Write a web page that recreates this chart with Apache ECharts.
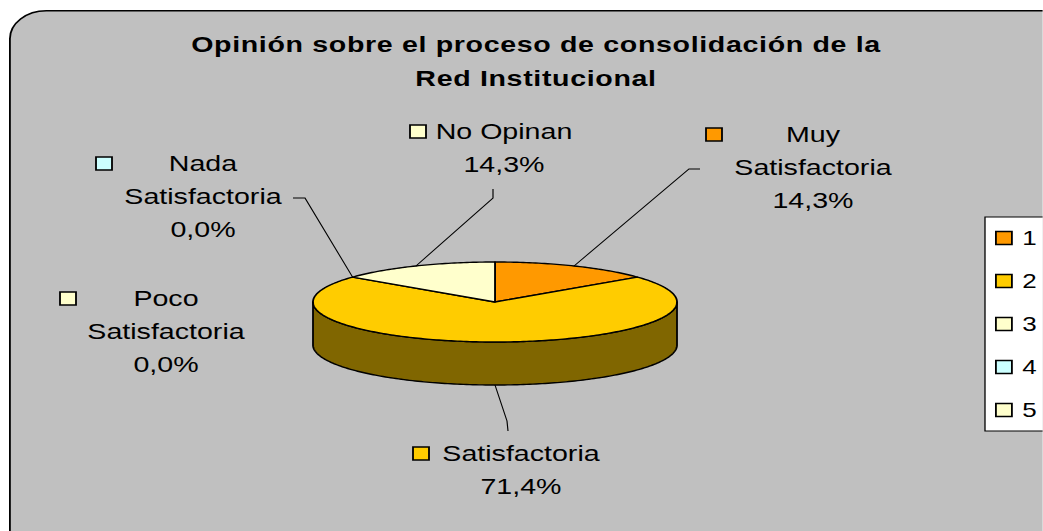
<!DOCTYPE html>
<html><head><meta charset="utf-8">
<script src="https://cdn.jsdelivr.net/npm/echarts@6/dist/echarts.min.js"></script>
<style>
html,body{margin:0;padding:0;background:#fff;overflow:hidden;width:1043px;height:531px;}
#main{width:802.3px;height:531px;transform:scaleX(1.3);transform-origin:0 0;}
#main text[style*="bold"]{letter-spacing:0.5px;}
</style></head><body><div id="main"></div>
<script>
// ---- data ----
const categories = ['Muy Satisfactoria', 'Satisfactoria', 'Poco Satisfactoria', 'Nada Satisfactoria', 'No Opinan'];
const percents = [14.3, 71.4, 0.0, 0.0, 14.3];
const legendNames = ['1', '2', '3', '4', '5'];
const titleLines = ['Opinión sobre el proceso de consolidación de la', 'Red Institucional'];

// ---- styles / layout (page pixels; the chart is drawn horizontally stretched by S) ----
const S = 1.3;
const sx = x => x / S;
const sliceColors = ['#FF9900', '#FFCC00', '#FFFFCC', '#CCFFFF', '#FFFFCC'];
const sideColors = ['#804C00', '#806600', '#808066', '#668080', '#808066'];
const PIE = {cx: 495, cy: 302, rx: 182, ry: 40, depth: 43};
const FONT = '"Liberation Sans", Arial, sans-serif';
const labelLayout = [
  {cx: 813, cy: 134, keyX: 706, wrap: true,  leader: [[689, 169], [700, 169]]},
  {cx: 521, cy: 453, keyX: 413, wrap: false, leader: [[507, 421], [508, 431]]},
  {cx: 166, cy: 298, keyX: 60,  wrap: true,  leader: null},
  {cx: 203, cy: 163, keyX: 96,  wrap: true,  leader: [[305, 198], [293, 198]]},
  {cx: 504, cy: 131, keyX: 410, wrap: false, leader: [[493, 198], [493, 189]]}
];

function fmtPct(v) { return v.toFixed(1).replace('.', ',') + '%'; }

function renderItem(params, api) {
  const i = params.dataIndex;
  const v = api.value(0);
  const total = percents.reduce((a, b) => a + b, 0);
  let before = 0;
  for (let k = 0; k < i; k++) before += percents[k];
  const a0 = before / total * 2 * Math.PI;
  const a1 = (before + v) / total * 2 * Math.PI;
  const pt = (t, dy) => [sx(PIE.cx + PIE.rx * Math.sin(t)), PIE.cy - PIE.ry * Math.cos(t) + (dy || 0)];
  const arc = (s, e, dy) => {
    const n = Math.max(2, Math.ceil((e - s) / (Math.PI / 180)));
    const out = [];
    for (let j = 0; j <= n; j++) out.push(pt(s + (e - s) * j / n, dy));
    return out;
  };
  const children = [];
  if (v > 0) {
    const s = Math.max(a0, Math.PI / 2), e = Math.min(a1, 3 * Math.PI / 2);
    if (e > s) {
      const top = arc(s, e, 0), bot = arc(s, e, PIE.depth).reverse();
      children.push({type: 'polygon', z2: 1, shape: {points: top.concat(bot)},
        style: {fill: sideColors[i], stroke: '#000', lineWidth: 1.4, lineJoin: 'round'}});
    }
    children.push({type: 'polygon', z2: 5, shape: {points: [[sx(PIE.cx), PIE.cy]].concat(arc(a0, a1, 0))},
      style: {fill: sliceColors[i], stroke: '#000', lineWidth: 1.4, lineJoin: 'round'}});
  }
  const L = labelLayout[i];
  if (L.leader) {
    const mid = (a0 + a1) / 2;
    const front = Math.cos(mid) < 0;
    const p0 = pt(mid, front ? PIE.depth : 0);
    const pts = [p0].concat(L.leader.map(p => [sx(p[0]), p[1]]));
    children.push({type: 'polyline', z2: 8, shape: {points: pts},
      style: {stroke: '#000', lineWidth: 0.9, fill: null}});
  }
  const name = L.wrap ? categories[i].replace(' ', '\n') : categories[i];
  children.push({type: 'rect', z2: 10, shape: {x: sx(L.keyX), y: L.cy - 6, width: sx(16), height: 13},
    style: {fill: sliceColors[i], stroke: '#000', lineWidth: 1.4}});
  children.push({type: 'text', z2: 10, style: {
    text: name + '\n' + fmtPct(v), x: sx(L.cx), y: L.cy - 16.5,
    align: 'center', verticalAlign: 'top', lineHeight: 33,
    fontSize: 22, fontFamily: FONT, fill: '#000'}});
  return {type: 'group', children: children};
}

const chart = echarts.init(document.getElementById('main'), null, {renderer: 'svg', width: 1043 / S, height: 531});

const series = [{
  type: 'custom', coordinateSystem: 'none', name: 'pie3d',
  data: percents.map((v, i) => ({name: categories[i], value: [v]})),
  renderItem: renderItem, silent: true, animation: false
}];
legendNames.forEach((n, k) => {
  series.push({type: 'custom', coordinateSystem: 'none', name: n, data: [],
    renderItem: () => null, itemStyle: {color: sliceColors[k]}});
});

chart.setOption({
  animation: false,
  backgroundColor: '#fff',
  graphic: [{
    type: 'rect', left: sx(9), top: 10, z: -10, silent: true,
    shape: {width: 900, height: 600, r: 28},
    style: {fill: '#C0C0C0', stroke: '#000', lineWidth: 1.4}
  }],
  title: {
    text: titleLines.join('\n'), left: sx(536), top: 27, padding: 0, textAlign: 'center',
    textStyle: {fontSize: 22, fontWeight: 'bold', fontFamily: FONT, color: '#000', lineHeight: 34}
  },
  legend: {
    data: legendNames, orient: 'vertical', left: sx(985), top: 217,
    padding: [10, 40, 10, sx(10)], itemGap: 21, itemWidth: sx(16), itemHeight: 13,
    icon: 'rect', selectedMode: false,
    backgroundColor: '#fff', borderColor: '#000', borderWidth: 1, borderRadius: 0,
    itemStyle: {borderColor: '#000', borderWidth: 1.4},
    textStyle: {fontSize: 20, fontFamily: FONT, color: '#000', lineHeight: 22, padding: [0, 0, 0, 3]}
  },
  series: series
});
</script></body></html>
